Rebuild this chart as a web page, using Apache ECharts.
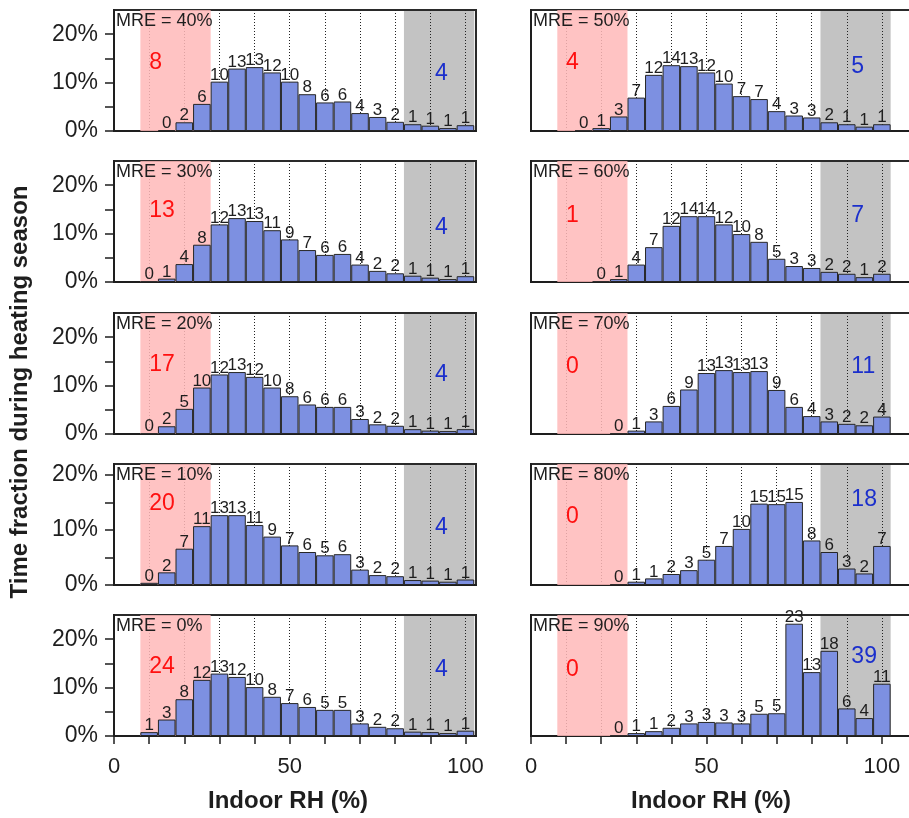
<!DOCTYPE html>
<html>
<head>
<meta charset="utf-8">
<script src="https://cdn.jsdelivr.net/npm/echarts@6/dist/echarts.min.js"></script>
<style>
html, body { margin: 0; padding: 0; background: #fff; overflow: hidden; }
#chart { width: 909px; height: 818px; }
</style>
</head>
<body>
<div id="chart"></div>
<script>
// bin centres of indoor RH (%), 5 % wide bins
const bins = [10, 15, 20, 25, 30, 35, 40, 45, 50, 55, 60, 65, 70, 75, 80, 85, 90, 95, 100];

// time fraction (%) per bin, one array per MRE case (null = no bar)
const mre40 = [null, 0.2, 1.8, 5.6, 10.2, 12.9, 13.2, 12.1, 10.2, 7.6, 5.9, 6.1, 3.7, 2.9, 1.9, 1.4, 1.1, 0.6, 1.2];
const mre30 = [0.1, 0.7, 3.7, 7.7, 11.9, 13.2, 12.6, 10.7, 8.8, 6.6, 5.6, 5.8, 3.6, 2.3, 1.8, 1.3, 0.9, 0.6, 1.2];
const mre20 = [0.1, 1.6, 5.2, 9.6, 12.3, 12.8, 11.8, 9.6, 7.8, 6.1, 5.6, 5.6, 3.1, 2.0, 1.7, 1.0, 0.7, 0.6, 1.0];
const mre10 = [0.4, 2.3, 6.6, 10.7, 12.7, 12.7, 10.9, 8.8, 7.2, 6.0, 5.4, 5.6, 2.8, 1.8, 1.6, 0.9, 0.8, 0.6, 1.0];
const mre0  = [0.8, 3.4, 7.6, 11.6, 12.9, 12.2, 10.1, 8.1, 6.8, 6.0, 5.4, 5.4, 2.6, 1.9, 1.6, 0.9, 0.8, 0.6, 1.1];
const mre50 = [null, 0.1, 0.6, 3.0, 6.9, 11.6, 13.6, 13.4, 12.1, 9.8, 7.2, 6.6, 4.1, 3.2, 2.8, 1.8, 1.4, 0.9, 1.4];
const mre60 = [null, null, 0.1, 0.6, 3.6, 7.2, 11.6, 13.6, 13.6, 11.9, 9.9, 8.3, 4.8, 3.3, 2.9, 2.1, 1.7, 1.0, 1.7];
const mre70 = [null, null, null, 0.1, 0.7, 2.6, 5.8, 9.2, 12.6, 13.2, 12.8, 13.0, 9.1, 5.6, 3.7, 2.6, 2.1, 1.8, 3.6];
const mre80 = [null, null, null, 0.1, 0.6, 1.2, 2.0, 2.7, 4.6, 7.1, 10.2, 14.8, 14.7, 15.1, 8.1, 6.0, 3.0, 2.1, 7.1];
const mre90 = [null, null, null, 0.1, 0.6, 1.0, 1.7, 2.6, 2.9, 2.8, 2.6, 4.6, 4.7, 23.2, 13.2, 17.6, 5.7, 3.7, 10.8];

// panel order: left column top->bottom, then right column
const panelValues = [mre40, mre30, mre20, mre10, mre0, mre50, mre60, mre70, mre80, mre90];
const mreNames = ["40%", "30%", "20%", "10%", "0%", "50%", "60%", "70%", "80%", "90%"];
// totals shown in the dry (red) and humid (grey) bands
const lowCounts = [8, 13, 17, 20, 24, 4, 1, 0, 0, 0];
const highCounts = [4, 4, 4, 4, 4, 5, 7, 11, 18, 39];
const yTicks = [0, 5, 10, 15, 20];
const yLabels = [0, 10, 20];
const xTicks = [0, 10, 20, 30, 40, 50, 60, 70, 80, 90, 100];
const xLabels = [0, 50, 100];

// layout
const yMax = [25, 25, 25, 22, 25, 25, 25, 25, 22, 25];
const lowNoteY = [14.1, 14.7, 14.3, 14.8, 14.4, 14.1, 13.8, 13.9, 12.5, 13.8];
const highNoteY = [11.8, 11.3, 12.3, 10.5, 13.8, 13.3, 13.8, 13.9, 15.5, 16.4];
const rowTops = [10, 161, 313, 464, 615];
const font = "Liberation Sans, Arial, sans-serif";
const ink = "#1e1e1e";

let grid = [], xAxis = [], yAxis = [], series = [], title = [];

for (let i = 0; i < 10; i++) {
  const col = i < 5 ? 0 : 1;
  const row = i % 5;
  const left = col ? 531 : 114;
  // right column runs past the page edge, as in the cropped original
  grid.push({
    left: left, top: rowTops[row], width: col ? 440 : 362, height: 121,
    outerBoundsMode: "none", containLabel: false,
    show: true, borderColor: "#2a2a2a", borderWidth: 2, backgroundColor: "transparent"
  });
  xAxis.push({
    type: "value", gridIndex: i, min: 0, max: col ? 125.4 : 103, interval: 10,
    axisLine: { show: true, onZero: false, lineStyle: { color: ink, width: 2 } },
    axisTick: { show: row === 4, customValues: xTicks, length: 8, lineStyle: { color: ink, width: 1.5 } },
    axisLabel: { show: row === 4, customValues: xLabels, fontSize: 22, color: ink, fontFamily: font, margin: 20 },
    splitLine: { show: true, lineStyle: { color: "#222", type: [1, 2], width: 1 } }
  });
  yAxis.push({
    type: "value", gridIndex: i, min: 0, max: yMax[i], interval: 5,
    axisLine: { show: true, lineStyle: { color: ink, width: 2 } },
    axisTick: { show: col === 0, customValues: yTicks, length: 9, lineStyle: { color: ink, width: 1.5 } },
    axisLabel: { show: col === 0, customValues: yLabels, formatter: "{value}%", fontSize: 23, color: ink, fontFamily: font, margin: 16 },
    splitLine: { show: false }
  });

  const vals = panelValues[i];
  const data = [];
  for (let k = 0; k < bins.length; k++) {
    if (vals[k] != null) data.push([bins[k], vals[k]]);
  }

  // humid band, under the dotted lines
  series.push({
    type: "line", xAxisIndex: i, yAxisIndex: i, data: [], silent: true,
    markArea: { z: -1, silent: true, itemStyle: { color: "#c3c3c3" },
      data: [[{ xAxis: 82.5 }, { xAxis: 102.5 }]] }
  });
  // dry band, over the dotted lines
  series.push({
    type: "line", xAxisIndex: i, yAxisIndex: i, data: [], silent: true,
    markArea: { z: 1, silent: true, itemStyle: { color: "#ffb8b8", opacity: 0.85 },
      data: [[{ xAxis: 7.5 }, { xAxis: 27.5 }]] }
  });
  series.push({
    type: "bar", xAxisIndex: i, yAxisIndex: i, data: data, barWidth: "100%", z: 3,
    itemStyle: { color: "#7d90e1", borderColor: "#262626", borderWidth: 1 },
    label: {
      show: true, position: "top", distance: -2, fontSize: 17, color: ink, fontFamily: font,
      formatter: p => Math.round(p.value[1])
    },
    markPoint: {
      symbol: "circle", symbolSize: 0, silent: true,
      label: { show: true, position: "right", distance: 0, fontSize: 23, fontFamily: font, formatter: p => p.value },
      data: [
        { coord: [10, lowNoteY[i]], value: lowCounts[i], label: { color: "#ff1010" } },
        { coord: [91.3, highNoteY[i]], value: highCounts[i], label: { color: "#1b2fcc" } }
      ]
    }
  });

  title.push({
    text: "MRE = " + mreNames[i], left: left + 2, top: rowTops[row] + 2, padding: 0,
    textStyle: { fontSize: 18, fontWeight: "normal", color: ink, fontFamily: font }
  });
}

const myChart = echarts.init(document.getElementById("chart"));
myChart.setOption({
  animation: false,
  backgroundColor: "#fff",
  title: title,
  grid: grid,
  xAxis: xAxis,
  yAxis: yAxis,
  series: series,
  graphic: [
    { type: "text", x: 20, y: 392, rotation: Math.PI / 2,
      style: { text: "Time fraction during heating season", font: "bold 24px " + font, fill: ink, textAlign: "center", textVerticalAlign: "middle" } },
    { type: "text", x: 288, y: 801,
      style: { text: "Indoor RH (%)", font: "bold 24px " + font, fill: ink, textAlign: "center", textVerticalAlign: "middle" } },
    { type: "text", x: 711, y: 801,
      style: { text: "Indoor RH (%)", font: "bold 24px " + font, fill: ink, textAlign: "center", textVerticalAlign: "middle" } }
  ]
});
</script>
</body>
</html>
